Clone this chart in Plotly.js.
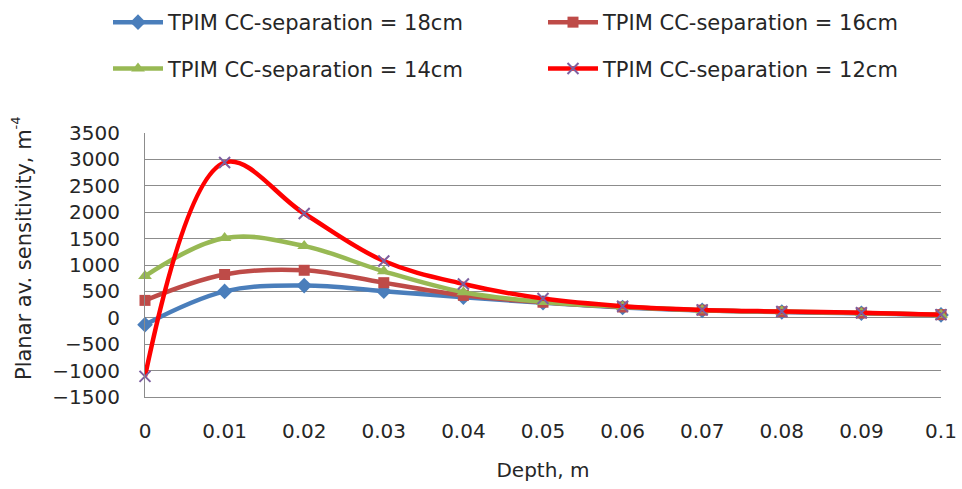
<!DOCTYPE html>
<html>
<head>
<meta charset="utf-8">
<script src="https://cdn.plot.ly/plotly-3.0.1.min.js"></script>
<style>
  html, body { margin: 0; padding: 0; background: #ffffff; }
  #wrap { position: relative; width: 962px; height: 489px; }
  #chart { width: 962px; height: 489px; }
  #ytitle {
    position: absolute; left: 9px; top: 76px; width: 30px; height: 344px;
    writing-mode: vertical-rl; transform: rotate(180deg);
    text-align: center; line-height: 30px;
    font-family: 'DejaVu Sans', Arial, sans-serif; font-size: 21px; color: #262626;
    white-space: nowrap;
  }
  #ytitle sup { font-size: 13px; line-height: 0; }
</style>
</head>
<body>
<div id="wrap">
  <div id="chart"></div>
  <div id="ytitle"></div>
</div>
<script>
// Depth, m
const depth = [0, 0.01, 0.02, 0.03, 0.04, 0.05, 0.06, 0.07, 0.08, 0.09, 0.1];
// Planar av. sensitivity, m^-4
const sep18 = [-130, 500, 610, 505, 390, 285, 195, 140, 110, 85, 55];
const sep16 = [330, 820, 900, 665, 425, 295, 205, 145, 115, 90, 60];
const sep14 = [790, 1510, 1360, 880, 485, 300, 210, 145, 118, 92, 60];
const sep12 = [-1110, 2940, 1975, 1075, 640, 365, 220, 150, 120, 95, 60];
const seriesNames = [
  'TPIM CC-separation = 18cm',
  'TPIM CC-separation = 16cm',
  'TPIM CC-separation = 14cm',
  'TPIM CC-separation = 12cm'
];
const xTickVals = [0, 0.01, 0.02, 0.03, 0.04, 0.05, 0.06, 0.07, 0.08, 0.09, 0.1];
const xTickText = ['0', '0.01', '0.02', '0.03', '0.04', '0.05', '0.06', '0.07', '0.08', '0.09', '0.1'];
const xTitle = 'Depth, m';
const yTitle = 'Planar av. sensitivity, m<sup>-4</sup>';

document.getElementById('ytitle').innerHTML = yTitle;

const FONT = 'DejaVu Sans, Arial, sans-serif';
const TXT = '#262626';
const GRID = '#8c8c8c';

function mk(y, name, lineColor, symbol, mColor, mSize, mLine, legend, group) {
  return {
    x: depth, y: y, name: name, type: 'scatter', mode: 'lines+markers',
    line: { color: lineColor, width: 4.5, shape: 'spline', smoothing: 1.05 },
    marker: { symbol: symbol, color: mColor, size: mSize, line: mLine },
    cliponaxis: false,
    legend: legend, legendgroup: group
  };
}

const traces = [
  mk(sep18, seriesNames[0], '#4A7EBB', 'diamond', '#4A7EBB', 12, { width: 0 }, 'legend', 'g1'),
  mk(sep16, seriesNames[1], '#BE4B48', 'square', '#BE4B48', 11, { width: 0 }, 'legend2', 'g2'),
  mk(sep14, seriesNames[2], '#98B954', 'triangle-up', '#98B954', 12, { width: 0 }, 'legend', 'g3'),
  mk(sep12, seriesNames[3], '#FF0000', 'x-thin', '#7D60A0', 11, { width: 2, color: '#7D60A0' }, 'legend2', 'g4')
];

const legendCommon = {
  orientation: 'v',
  xref: 'container', yref: 'container',
  xanchor: 'left', yanchor: 'top',
  font: { family: FONT, size: 21, color: TXT },
  bgcolor: 'rgba(0,0,0,0)',
  borderwidth: 0,
  tracegroupgap: 16,
  itemwidth: 50
};

const layout = {
  width: 962, height: 489,
  paper_bgcolor: '#ffffff', plot_bgcolor: '#ffffff',
  margin: { l: 145, r: 21, t: 133, b: 92, pad: 0, autoexpand: false },
  font: { family: FONT, size: 20, color: TXT },
  showlegend: true,
  legend: Object.assign({}, legendCommon, { x: 108 / 962, y: 1 - 2 / 489 }),
  legend2: Object.assign({}, legendCommon, { x: 543 / 962, y: 1 - 2 / 489 }),
  xaxis: {
    range: [0, 0.1],
    tickmode: 'array', tickvals: xTickVals, ticktext: xTickText,
    showgrid: false, zeroline: false,
    showline: true, linecolor: GRID, linewidth: 1,
    ticks: 'outside', ticklen: 16, tickcolor: 'rgba(0,0,0,0)',
    tickangle: 0,
    tickfont: { family: FONT, size: 20, color: TXT },
    title: { text: xTitle, font: { family: FONT, size: 20, color: TXT }, standoff: 20 }
  },
  yaxis: {
    range: [-1500, 3500], dtick: 500, tick0: 0,
    showgrid: true, gridcolor: GRID, gridwidth: 1,
    zeroline: false,
    showline: true, linecolor: GRID, linewidth: 1,
    ticks: 'outside', ticklen: 20, tickcolor: 'rgba(0,0,0,0)',
    tickfont: { family: FONT, size: 20, color: TXT }
  }
};

Plotly.newPlot('chart', traces, layout, { displayModeBar: false, staticPlot: true });
</script>
</body>
</html>
